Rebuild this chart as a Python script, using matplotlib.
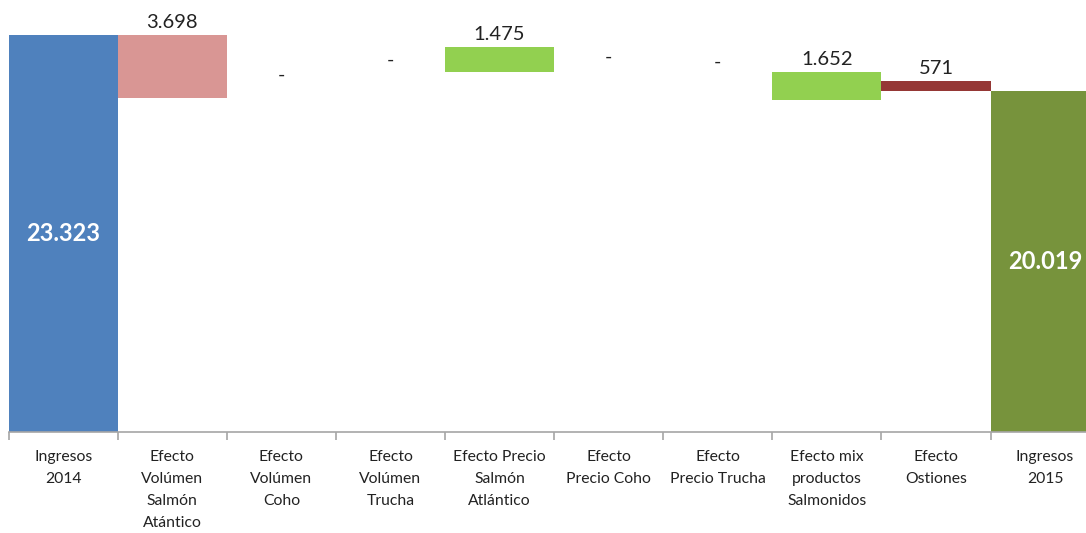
import matplotlib.pyplot as plt
from matplotlib.ticker import FixedLocator

plt.rcParams['font.family'] = ['Lato', 'DejaVu Sans']

# Datos (miles)
categorias = [
    "Ingresos\n2014",
    "Efecto\nVolúmen\nSalmón\nAtántico",
    "Efecto\nVolúmen\nCoho",
    "Efecto\nVolúmen\nTrucha",
    "Efecto Precio\nSalmón\nAtlántico",
    "Efecto\nPrecio Coho",
    "Efecto\nPrecio Trucha",
    "Efecto mix\nproductos\nSalmonidos",
    "Efecto\nOstiones",
    "Ingresos\n2015",
]
valores = [23323, 3698, 0, 0, 1475, 0, 0, 1652, 571, 20019]
# base invisible de cada barra
bases = [0, 19625, 0, 0, 21147, 0, 0, 19495, 20019, 0]
# altura de los guiones "-" de los efectos nulos
nivel_guion = [0, 0, 20930, 21810, 0, 22030, 21740, 0, 0, 0]
colores = ["#4F81BD", "#D99694", "#92D050", "#92D050", "#92D050",
           "#92D050", "#92D050", "#92D050", "#953735", "#77933C"]

fig = plt.figure(figsize=(10.86, 5.33), dpi=100)
ax = fig.add_axes([8.6 / 1086, 101.5 / 533, 1091 / 1086, 431.5 / 533])

x = list(range(len(categorias)))
ax.bar(x, valores, bottom=bases, width=1.0, color=colores, linewidth=0)

def fmt(v):
    return f"{v:,}".replace(",", ".")

for i, (v, b) in enumerate(zip(valores, bases)):
    if i in (0, len(valores) - 1):
        ax.text(i, b + v / 2, fmt(v), ha="center", va="center",
                color="white", fontsize=17, fontweight="bold")
    elif v == 0:
        ax.text(i, nivel_guion[i], "-", ha="center", va="center",
                color="#222222", fontsize=14)
    else:
        ax.annotate(fmt(v), (i, b + v), xytext=(0, 3), textcoords="offset points",
                    ha="center", va="bottom", fontsize=14.5, color="#222222")

ax.set_xlim(-0.5, len(categorias) - 0.5)
ax.set_ylim(0, 431.5 / 17.0 * 1000)

for s in ["top", "right", "left"]:
    ax.spines[s].set_visible(False)
ax.spines["bottom"].set_color("#A6A6A6")
ax.spines["bottom"].set_linewidth(1.2)
ax.set_yticks([])

ax.set_xticks(x)
ax.set_xticklabels(categorias, fontsize=11.3, color="#222222", linespacing=1.72, va="top")
ax.tick_params(axis="x", which="major", length=0, pad=13.5)
ax.xaxis.set_minor_locator(FixedLocator([i - 0.5 for i in range(len(categorias) + 1)]))
ax.tick_params(axis="x", which="minor", length=6, color="#A6A6A6", width=1.2)

fig.savefig("out.png", dpi=100)
